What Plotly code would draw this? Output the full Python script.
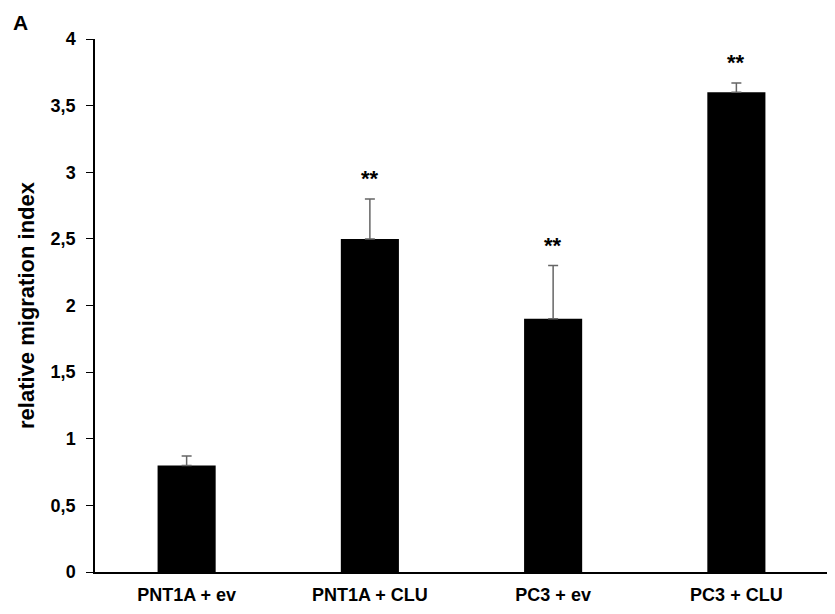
import plotly.graph_objects as go

categories = ["PNT1A + ev", "PNT1A + CLU", "PC3 + ev", "PC3 + CLU"]
values = [0.8, 2.5, 1.9, 3.6]
errors = [0.07, 0.3, 0.4, 0.07]
significance = ["", "**", "**", "**"]
y_ticks = [0, 0.5, 1, 1.5, 2, 2.5, 3, 3.5, 4]

FONT = "Liberation Sans, Arial"

fig = go.Figure()
fig.add_trace(go.Bar(
    x=categories, y=values, width=0.317,
    marker=dict(color="black", line=dict(width=0)),
    error_y=dict(type="data", symmetric=False, array=errors,
                 arrayminus=[0] * len(errors), color="#666666",
                 thickness=1.5, width=5),
))

for c, v, e, s in zip(categories, values, errors, significance):
    if s:
        fig.add_annotation(x=c, y=v + e, text="<b>" + s + "</b>", showarrow=False,
                           yanchor="middle", yshift=20,
                           font=dict(size=22, color="black", family=FONT))

fig.add_annotation(x=-0.5, y=4, xref="x", yref="y", xanchor="center",
                   yanchor="middle", text="<b>A</b>", showarrow=False,
                   xshift=-75, yshift=17, borderpad=0,
                   font=dict(size=21, color="black", family=FONT))
fig.update_layout(
    width=827, height=606,
    margin=dict(l=87, r=7, t=31, b=42),
    paper_bgcolor="white", plot_bgcolor="white",
    showlegend=False,
    font=dict(family=FONT, color="black"),
    xaxis=dict(range=[-0.5, 3.5], showline=True, linecolor="black", linewidth=1.5,
               ticks="", tickfont=dict(size=18, color="black"),
               ticklabelstandoff=6,
               tickvals=categories, ticktext=["<b>" + c + "</b>" for c in categories]),
    yaxis=dict(range=[0, 4], showline=True, linecolor="black", linewidth=1.5,
               showgrid=False, zeroline=False, ticks="outside", ticklen=7,
               tickwidth=1.2, tickcolor="black",
               tickvals=y_ticks, ticklabelstandoff=7,
               ticktext=["<b>" + ("%g" % t).replace(".", ",") + "</b>" for t in y_ticks],
               tickfont=dict(size=18, color="black"),
               title=dict(text="<b>relative migration index</b>",
                          font=dict(size=22), standoff=10)),
)
fig.write_html("out.html")
